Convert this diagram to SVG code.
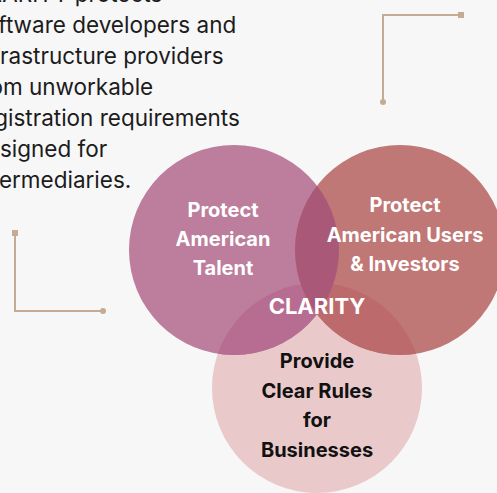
<svg xmlns="http://www.w3.org/2000/svg" width="497" height="493" viewBox="0 0 497 493">
<style>
.body{font-family:Inter,"Open Sans",sans-serif;font-size:22.5px;fill:#1c1c1c}
.lbl{font-family:Inter,"Open Sans",sans-serif;font-size:20px;font-weight:700;fill:#ffffff;text-anchor:middle}
.dark{fill:#111111}
.deco{stroke:#c4ab92;stroke-width:2;fill:none}
.decofill{fill:#c4ab92}
</style>
<defs>
<clipPath id="cL"><circle cx="234" cy="250" r="105"/></clipPath>
<clipPath id="cB"><circle cx="317" cy="388" r="105"/></clipPath>
</defs>
<rect width="497" height="493" fill="#f7f7f7"/>
<g id="intro-text" class="body">
<text x="-27" y="2">CLARITY protects</text>
<text x="-27" y="33">software developers and</text>
<text x="-27" y="64">infrastructure providers</text>
<text x="-27" y="95">from unworkable</text>
<text x="-27" y="126">registration requirements</text>
<text x="-27" y="157">designed for</text>
<text x="-27" y="188">intermediaries.</text>
</g>
<g id="connectors">
<path class="deco" d="M461 15 H383 V102"/>
<rect class="decofill" x="458" y="12" width="6" height="6"/>
<circle class="decofill" cx="383" cy="102" r="3"/>
<path class="deco" d="M15 233 V311 H103"/>
<rect class="decofill" x="12" y="230" width="6" height="6"/>
<circle class="decofill" cx="103" cy="311" r="3"/>
</g>
<g id="venn">
<circle id="circle-bottom" cx="317" cy="388" r="105" fill="#e9c9ca"/>
<circle id="circle-left" cx="234" cy="250" r="105" fill="#bc7e9c"/>
<circle id="circle-right" cx="400" cy="250" r="105" fill="#c07876"/>
<g clip-path="url(#cB)">
<circle cx="234" cy="250" r="105" fill="#b66d91"/>
<circle cx="400" cy="250" r="105" fill="#bd6a6c"/>
</g>
<g clip-path="url(#cL)">
<circle cx="400" cy="250" r="105" fill="#aa5878"/>
</g>
</g>
<g id="node-talent">
<text class="lbl" x="223" y="217">Protect</text>
<text class="lbl" x="223" y="246">American</text>
<text class="lbl" x="223" y="275">Talent</text>
</g>
<g id="node-users">
<text class="lbl" x="405" y="212">Protect</text>
<text class="lbl" x="405" y="242">American Users</text>
<text class="lbl" x="405" y="271">&amp; Investors</text>
</g>
<g id="node-clarity">
<text class="lbl" x="317" y="314" style="font-size:22px">CLARITY</text>
</g>
<g id="node-business">
<text class="lbl dark" x="317" y="368">Provide</text>
<text class="lbl dark" x="317" y="398">Clear Rules</text>
<text class="lbl dark" x="317" y="427">for</text>
<text class="lbl dark" x="317" y="457">Businesses</text>
</g>
</svg>
